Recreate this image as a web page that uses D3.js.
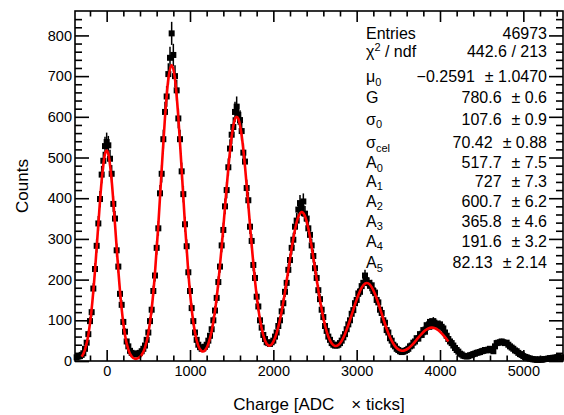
<!DOCTYPE html>
<html>
<head>
<meta charset="utf-8">
<script src="https://cdn.jsdelivr.net/npm/d3@7"></script>
<style>
  body { margin: 0; background: #fff; }
  text { font-family: "Liberation Sans", Arial, Helvetica, sans-serif; fill: #000; }
</style>
</head>
<body>
<div id="svg-container"></div>
<script>
//////////////  Data  //////////////
// histogram: 20 ADC wide bins, first bin centred at -360
const binStart = -360;
const binWidth = 20;
const counts = [
  9, 11, 12, 15, 19, 30, 45, 66, 98, 120,
  178, 226, 283, 338, 398, 458, 492, 528, 538, 530,
  497, 460, 386, 350, 272, 232, 165, 138, 96, 72,
  48, 36, 25, 20, 18, 16, 17, 19, 20, 24,
  30, 38, 52, 70, 98, 126, 172, 210, 278, 326,
  412, 460, 545, 612, 650, 705, 745, 805, 752, 700,
  665, 596, 545, 466, 410, 336, 282, 218, 172, 130,
  98, 70, 52, 40, 34, 30, 31, 35, 40, 50,
  62, 78, 100, 124, 155, 194, 232, 284, 322, 380,
  420, 476, 522, 556, 575, 612, 625, 605, 592, 565,
  512, 490, 425, 395, 330, 295, 236, 204, 158, 134,
  100, 82, 64, 54, 46, 44, 42, 46, 50, 60,
  70, 86, 100, 122, 142, 170, 192, 224, 248, 278,
  298, 330, 345, 372, 388, 375, 392, 362, 350, 326,
  310, 284, 258, 228, 204, 174, 152, 126, 108, 86,
  74, 60, 52, 44, 40, 38, 38, 40, 44, 50,
  58, 66, 78, 90, 100, 116, 125, 142, 150, 166,
  170, 184, 192, 210, 198, 192, 185, 186, 172, 168,
  150, 144, 126, 118, 100, 94, 76, 70, 56, 50,
  40, 36, 30, 27, 24, 22, 23, 25, 27, 30,
  36, 38, 45, 48, 56, 55, 66, 64, 76, 72,
  88, 84, 96, 86, 98, 90, 92, 86, 90, 84,
  80, 70, 62, 54, 48, 44, 38, 32, 27, 23,
  18, 16, 13, 12, 11, 12, 14, 15, 17, 18,
  20, 21, 22, 24, 25, 27, 26, 28, 30, 27,
  24, 36, 44, 45, 46, 48, 46, 44, 45, 40,
  36, 33, 30, 26, 24, 20, 17, 15, 12, 10,
  9, 7, 6, 5, 4, 4, 3, 3, 4, 3,
  4, 5, 5, 6, 7, 7, 8, 8, 9, 10,
  8, 9
];

// fit curve, sampled every 40 ADC from -300 to 4100
const fitStart = -300;
const fitStep = 40;
const fitValues = [
  10.6, 27.9, 64, 127.8, 222, 336, 443, 509, 509, 443,
  336, 222, 128, 64, 28, 11.3, 5.6, 6.8, 14.7, 32.9,
  67.9, 127.4, 217, 335, 470, 599, 693, 727, 693, 599,
  470, 335, 217, 128, 69.6, 37.2, 24.2, 26.3, 42.2, 73.6,
  123, 192.8, 280, 378, 474, 551, 594.6, 595, 554, 478,
  383.3, 285.4, 197.7, 128.1, 79.6, 50.6, 38.5, 41, 56.3, 83.8,
  122, 169.8, 223.5, 276.9, 322.8, 354.4, 365.8, 355.7, 325.7, 280.5,
  227.5, 174.6, 126.6, 87.9, 60.1, 43.4, 37, 39.4, 49.6, 66.5,
  88.4, 113.5, 139, 162.3, 180.2, 190.1, 190.6, 181.6, 164.5, 141.8,
  116.2, 91, 68.3, 49.9, 36.6, 28.5, 25.3, 26.3, 31, 38.3,
  47.5, 57.5, 66.7, 74.7, 80, 82.1, 80.6, 75.7, 68, 58.5,
  48.1
];

// axis ticks
const xMajorTicks = [0, 1000, 2000, 3000, 4000, 5000];
const yMajorTicks = [0, 100, 200, 300, 400, 500, 600, 700, 800];

// stats box
const statNames = ["Entries", "χ^{2} / ndf", "μ_{0}", "G", "σ_{0}", "σ_{cel}",
  "A_{0}", "A_{1}", "A_{2}", "A_{3}", "A_{4}", "A_{5}"];
const statValues = ["46973", "442.6 / 213", "−0.2591", "780.6", "107.6", "70.42",
  "517.7", "727", "600.7", "365.8", "191.6", "82.13"];
const statErrors = ["", "", "1.0470", "0.6", "0.9", "0.88",
  "7.5", "7.3", "6.2", "4.6", "3.2", "2.14"];

//////////////  Init  //////////////
const width = 564;
const height = 415;
const frame = { left: 75, right: 563, top: 11, bottom: 361 };

const svg = d3.select("#svg-container").append("svg")
  .attr("width", width).attr("height", height);

// scales
const xScale = d3.scaleLinear().domain([-380, 5476]).range([frame.left, frame.right]);
const yScale = d3.scaleLinear().domain([0, 860]).range([frame.bottom, frame.top]);

const bins = counts.map((c, i) => ({ x: binStart + i * binWidth, c: c }));

// data points with errors
const pts = svg.append("g");
pts.selectAll("line")
  .data(bins)
  .join("line")
  .attr("x1", (d) => xScale(d.x))
  .attr("x2", (d) => xScale(d.x))
  .attr("y1", (d) => yScale(Math.max(0, d.c - Math.sqrt(d.c))))
  .attr("y2", (d) => yScale(d.c + Math.sqrt(d.c)))
  .attr("stroke", "#000")
  .attr("stroke-width", 1.5);

const ms = 6;
pts.selectAll("rect")
  .data(bins)
  .join("rect")
  .attr("x", (d) => xScale(d.x) - ms / 2)
  .attr("y", (d) => yScale(d.c) - ms / 2)
  .attr("width", ms)
  .attr("height", ms)
  .attr("fill", "#000");

// fit line
const fitData = fitValues.map((v, i) => ({ x: fitStart + i * fitStep, v: v }));
const line = d3.line()
  .curve(d3.curveCardinal)
  .x((d) => xScale(d.x))
  .y((d) => yScale(d.v));

svg.append("path")
  .datum(fitData)
  .attr("fill", "none")
  .attr("stroke", "#ff0000")
  .attr("stroke-width", 2.6)
  .attr("d", line);

//////////////  Axes  //////////////
const xMinorTicks = d3.range(-200, 5401, 200).filter((v) => !xMajorTicks.includes(v));
const yMinorTicks = d3.range(0, 860, 20).filter((v) => !yMajorTicks.includes(v));

function drawAxis(axis, tx, ty) {
  const g = svg.append("g")
    .attr("transform", `translate(${tx},${ty})`)
    .call(axis);
  g.select(".domain").remove();
  g.selectAll("line").attr("stroke", "#000").attr("stroke-width", 1.6);
  g.selectAll("text").attr("font-size", 14.5).attr("font-family", null);
  return g;
}

const fmt = d3.format("d");
drawAxis(d3.axisBottom(xScale).tickValues(xMajorTicks).tickSize(-11).tickPadding(5).tickFormat(fmt), 0, frame.bottom);
drawAxis(d3.axisBottom(xScale).tickValues(xMinorTicks).tickSize(-5.5).tickFormat(""), 0, frame.bottom);
drawAxis(d3.axisTop(xScale).tickValues(xMajorTicks).tickSize(-11).tickFormat(""), 0, frame.top);
drawAxis(d3.axisTop(xScale).tickValues(xMinorTicks).tickSize(-5.5).tickFormat(""), 0, frame.top);
drawAxis(d3.axisLeft(yScale).tickValues(yMajorTicks).tickSize(-14).tickPadding(3).tickFormat(fmt), frame.left, 0);
drawAxis(d3.axisLeft(yScale).tickValues(yMinorTicks).tickSize(-7).tickFormat(""), frame.left, 0);
drawAxis(d3.axisRight(yScale).tickValues(yMajorTicks).tickSize(-14).tickFormat(""), frame.right, 0);
drawAxis(d3.axisRight(yScale).tickValues(yMinorTicks).tickSize(-7).tickFormat(""), frame.right, 0);

// frame
svg.append("rect")
  .attr("x", frame.left).attr("y", frame.top)
  .attr("width", frame.right - frame.left)
  .attr("height", frame.bottom - frame.top)
  .attr("fill", "none")
  .attr("stroke", "#000")
  .attr("stroke-width", 1.6);

// axis titles
svg.append("text")
  .attr("transform", `translate(22,${(frame.top + frame.bottom) / 2}) rotate(-90)`)
  .attr("text-anchor", "middle")
  .attr("dy", "0.35em")
  .attr("font-size", 17)
  .text("Counts");

const xt = svg.append("text")
  .attr("x", (frame.left + frame.right) / 2)
  .attr("y", 410)
  .attr("text-anchor", "middle")
  .attr("font-size", 17)
  .text("Charge [ADC");
xt.append("tspan").attr("dx", 17).text("× ticks]");

//////////////  Stats box  //////////////
const statRowY = [39, 56.5, 82, 103, 124.5, 148, 168, 186.5, 206.5, 226.5, 246.5, 268];
const statLeft = 366;
const statRight = 547;

// tiny ROOT-like latex: a_{sub}, a^{sup}
function richText(sel, str) {
  const parts = str.split(/([_^]\{[^}]*\})/).filter((s) => s.length);
  let shift = 0;
  parts.forEach((p) => {
    if (p[0] === "_" || p[0] === "^") {
      const s = p[0] === "_" ? 3.5 : -6;
      sel.append("tspan").attr("font-size", 11).attr("dy", s - shift).text(p.slice(2, -1));
      shift = s;
    } else {
      sel.append("tspan").attr("dy", -shift).text(p);
      shift = 0;
    }
  });
}

const stats = svg.append("g");
statNames.forEach((name, i) => {
  const yy = statRowY[i];
  const lab = stats.append("text").attr("x", statLeft).attr("y", yy).attr("font-size", 16);
  richText(lab, name);

  let valueRight = statRight;
  if (statErrors[i]) {
    const err = stats.append("text")
      .attr("x", statRight).attr("y", yy)
      .attr("text-anchor", "end")
      .attr("font-size", 16)
      .text("± " + statErrors[i]);
    valueRight = statRight - err.node().getComputedTextLength() - 10;
  }
  stats.append("text")
    .attr("x", valueRight).attr("y", yy)
    .attr("text-anchor", "end")
    .attr("font-size", 16)
    .text(statValues[i]);
});
</script>
</body>
</html>
